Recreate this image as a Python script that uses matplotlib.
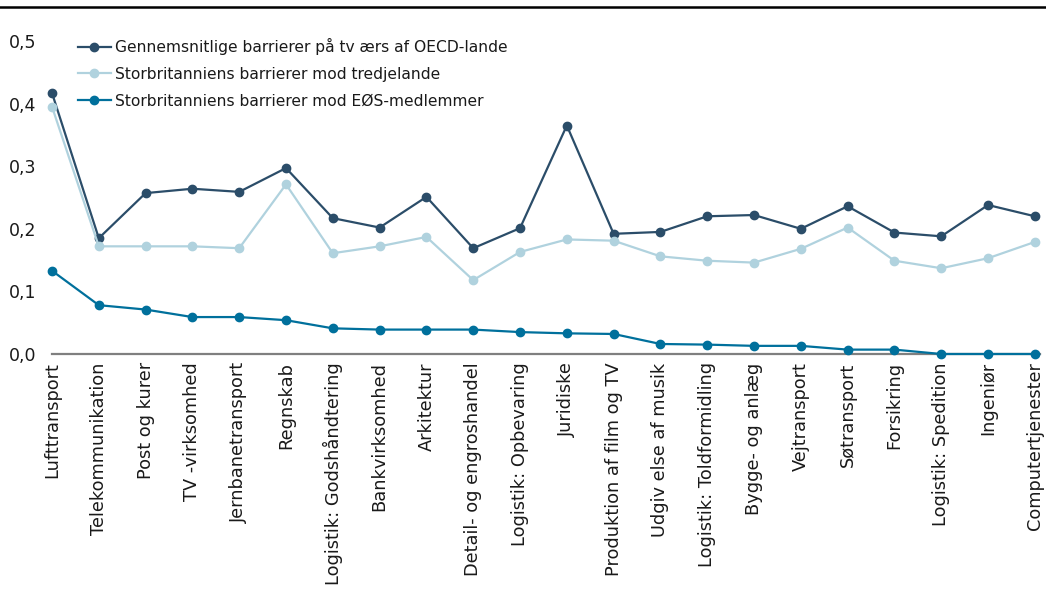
import matplotlib
matplotlib.use("Agg")
import matplotlib.pyplot as plt
from matplotlib.lines import Line2D

categories = ["Lufttransport", "Telekommunikation", "Post og kurer", "TV -virksomhed",
              "Jernbanetransport", "Regnskab", "Logistik: Godshåndtering", "Bankvirksomhed",
              "Arkitektur", "Detail- og engroshandel", "Logistik: Opbevaring", "Juridiske",
              "Produktion af film og TV", "Udgiv else af musik", "Logistik: Toldformidling",
              "Bygge- og anlæg", "Vejtransport", "Søtransport", "Forsikring",
              "Logistik: Spedition", "Ingeniør", "Computertjenester"]

oecd = [0.417, 0.185, 0.257, 0.264, 0.259, 0.297, 0.217, 0.202, 0.251, 0.169, 0.201,
        0.365, 0.192, 0.195, 0.220, 0.222, 0.200, 0.236, 0.194, 0.188, 0.238, 0.220]
uk_third = [0.395, 0.172, 0.172, 0.172, 0.169, 0.271, 0.161, 0.172, 0.187, 0.118, 0.163,
            0.183, 0.181, 0.156, 0.149, 0.146, 0.168, 0.202, 0.149, 0.137, 0.153, 0.179]
uk_eea = [0.133, 0.078, 0.071, 0.059, 0.059, 0.054, 0.041, 0.039, 0.039, 0.039, 0.035,
          0.033, 0.032, 0.016, 0.015, 0.013, 0.013, 0.007, 0.007, 0.0, 0.0, 0.0]

labels = ["Gennemsnitlige barrierer på tv ærs af OECD-lande",
          "Storbritanniens barrierer mod tredjelande",
          "Storbritanniens barrierer mod EØS-medlemmer"]
colors = ["#2b4d69", "#b0d2de", "#00709c"]
yticks = [0.0, 0.1, 0.2, 0.3, 0.4, 0.5]
ytick_labels = ["0,0", "0,1", "0,2", "0,3", "0,4", "0,5"]

plt.rcParams['font.family'] = ['DejaVu Sans']
W, H = 1046, 612
fig = plt.figure(figsize=(W / 100, H / 100), dpi=100)
ax = fig.add_axes([52 / W, 1 - 354 / H, (1040 - 52) / W, (354 - 41) / H])

x = list(range(len(categories)))
for series, lab, col in zip([oecd, uk_third, uk_eea], labels, colors):
    ax.plot(x, series, color=col, lw=1.6, marker='o', markersize=6, label=lab, clip_on=False, zorder=3)

ax.set_xlim(0, 21.11)
ax.set_ylim(0, 0.5)
ax.set_yticks(yticks)
ax.set_yticklabels(ytick_labels, fontsize=12.5, color="#1a1a1a")
ax.set_xticks(x)
ax.set_xticklabels(categories, rotation=90, fontsize=12.8, color="#1a1a1a")
ax.tick_params(axis='both', length=0)
ax.tick_params(axis='y', pad=11)
ax.tick_params(axis='x', pad=6)
for s in ['top', 'right', 'left']:
    ax.spines[s].set_visible(False)
ax.spines['bottom'].set_color('#7f7f7f')
ax.spines['bottom'].set_linewidth(1.6)

leg = ax.legend(loc='upper left', bbox_to_anchor=(78 / W, 1 - 38 / H), bbox_transform=fig.transFigure,
                frameon=False, fontsize=11.2, handlelength=2.1, handletextpad=0.25,
                labelspacing=0.75, borderpad=0, borderaxespad=0)
for t in leg.get_texts():
    t.set_color("#1a1a1a")

fig.add_artist(Line2D([0, 1], [1 - 7 / H, 1 - 7 / H], transform=fig.transFigure, color='black', lw=1.8))

fig.savefig("out.png", dpi=100)
